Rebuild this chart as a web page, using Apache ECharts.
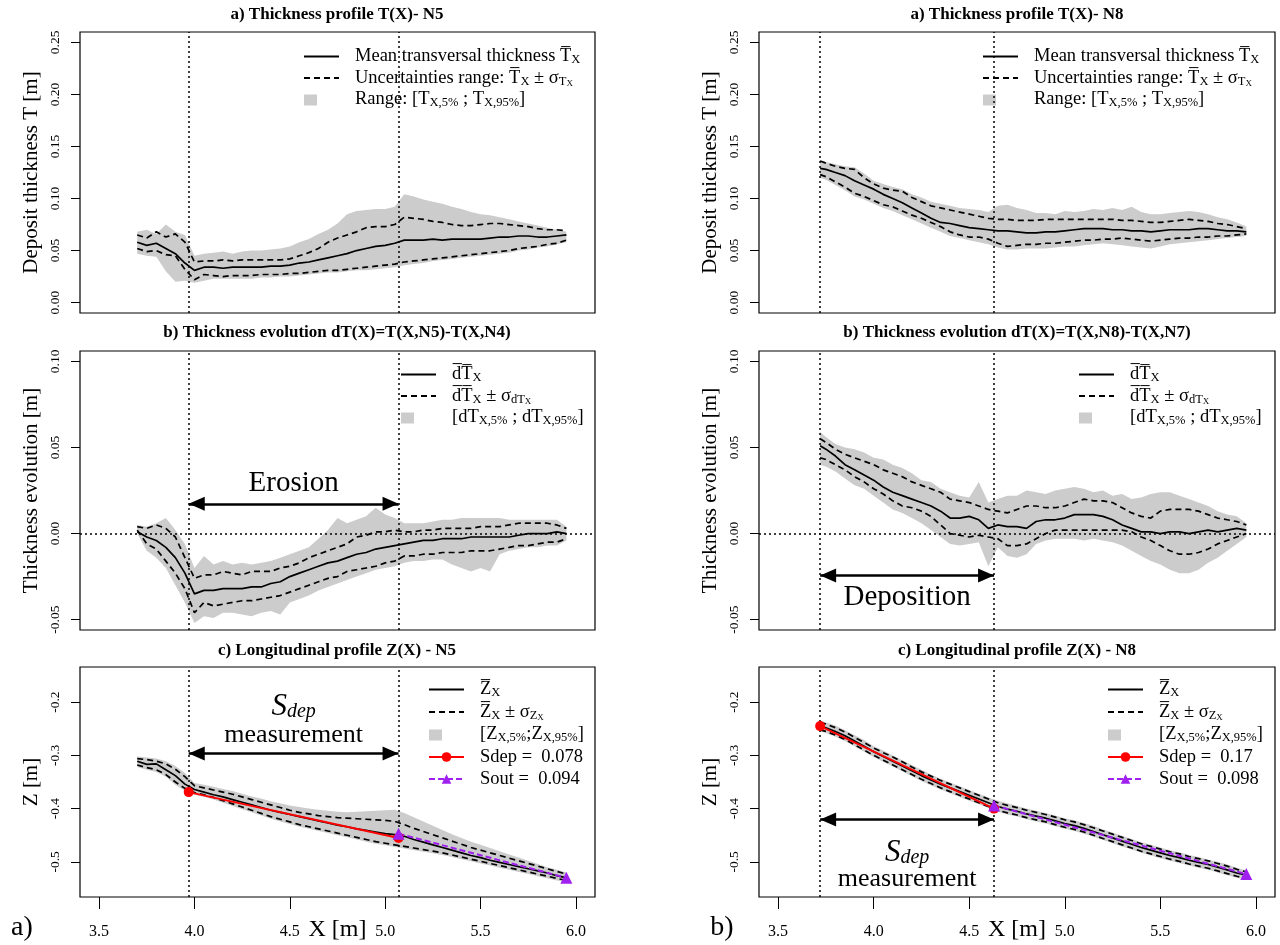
<!DOCTYPE html>
<html>
<head>
<meta charset="utf-8">
<title>Thickness and longitudinal profiles N5 / N8</title>
<script src="https://cdn.jsdelivr.net/npm/echarts@6/dist/echarts.min.js"></script>
<style>
  html, body { margin: 0; padding: 0; background: #ffffff; }
  #chart { width: 1280px; height: 945px; }
</style>
</head>
<body>
<div id="chart"></div>
<script>
var FONT = "'Liberation Serif', 'DejaVu Serif', serif"
var OV = '\u0305' // combining overline

// abscissa of the profiles (m)
var xN5 = [3.70, 3.75, 3.80, 3.85, 3.90, 3.95, 4.00, 4.05, 4.10, 4.15, 4.20, 4.25, 4.30, 4.35, 4.40, 4.45, 4.50, 4.55, 4.60, 4.65, 4.70, 4.75, 4.80, 4.85, 4.90, 4.95, 5.00, 5.05, 5.10, 5.15, 5.20, 5.25, 5.30, 5.35, 5.40, 5.45, 5.50, 5.55, 5.60, 5.65, 5.70, 5.75, 5.80, 5.85, 5.90, 5.95]
var xN8 = [3.72, 3.75, 3.80, 3.85, 3.90, 3.95, 4.00, 4.05, 4.10, 4.15, 4.20, 4.25, 4.30, 4.35, 4.40, 4.45, 4.50, 4.55, 4.60, 4.65, 4.70, 4.75, 4.80, 4.85, 4.90, 4.95, 5.00, 5.05, 5.10, 5.15, 5.20, 5.25, 5.30, 5.35, 5.40, 5.45, 5.50, 5.55, 5.60, 5.65, 5.70, 5.75, 5.80, 5.85, 5.90, 5.95]

// a) thickness T(X) - N5
var tN5Mean = [0.058, 0.055, 0.057, 0.052, 0.047, 0.038, 0.031, 0.034, 0.034, 0.033, 0.034, 0.034, 0.034, 0.034, 0.035, 0.035, 0.036, 0.038, 0.039, 0.041, 0.043, 0.045, 0.047, 0.050, 0.052, 0.054, 0.055, 0.057, 0.060, 0.060, 0.060, 0.061, 0.060, 0.061, 0.061, 0.061, 0.061, 0.062, 0.063, 0.063, 0.064, 0.064, 0.063, 0.063, 0.064, 0.065]
var tN5Up = [0.065, 0.062, 0.068, 0.063, 0.066, 0.058, 0.039, 0.040, 0.040, 0.041, 0.040, 0.041, 0.041, 0.041, 0.041, 0.041, 0.042, 0.045, 0.048, 0.052, 0.058, 0.062, 0.065, 0.068, 0.072, 0.073, 0.073, 0.075, 0.082, 0.081, 0.080, 0.078, 0.077, 0.075, 0.074, 0.074, 0.075, 0.076, 0.076, 0.075, 0.074, 0.073, 0.071, 0.070, 0.070, 0.069]
var tN5Low = [0.052, 0.049, 0.050, 0.046, 0.045, 0.032, 0.022, 0.027, 0.026, 0.025, 0.026, 0.026, 0.026, 0.027, 0.027, 0.027, 0.028, 0.028, 0.029, 0.030, 0.031, 0.031, 0.032, 0.033, 0.034, 0.035, 0.036, 0.037, 0.039, 0.040, 0.041, 0.042, 0.043, 0.044, 0.045, 0.046, 0.047, 0.048, 0.049, 0.050, 0.052, 0.053, 0.054, 0.056, 0.057, 0.060]
var tN5P95 = [0.068, 0.070, 0.066, 0.075, 0.068, 0.065, 0.045, 0.047, 0.048, 0.049, 0.047, 0.049, 0.050, 0.050, 0.051, 0.052, 0.054, 0.058, 0.061, 0.066, 0.070, 0.076, 0.085, 0.088, 0.089, 0.090, 0.090, 0.092, 0.104, 0.102, 0.099, 0.097, 0.095, 0.092, 0.090, 0.087, 0.085, 0.084, 0.082, 0.080, 0.078, 0.076, 0.074, 0.072, 0.070, 0.068]
var tN5P5 = [0.047, 0.045, 0.044, 0.030, 0.020, 0.021, 0.019, 0.021, 0.023, 0.023, 0.023, 0.023, 0.023, 0.024, 0.024, 0.025, 0.025, 0.026, 0.027, 0.028, 0.029, 0.029, 0.030, 0.031, 0.031, 0.032, 0.033, 0.034, 0.036, 0.037, 0.038, 0.040, 0.041, 0.042, 0.043, 0.044, 0.045, 0.046, 0.047, 0.048, 0.050, 0.051, 0.053, 0.054, 0.056, 0.058]

// a) thickness T(X) - N8
var tN8Mean = [0.129, 0.128, 0.125, 0.122, 0.117, 0.113, 0.109, 0.104, 0.100, 0.096, 0.091, 0.086, 0.081, 0.077, 0.076, 0.074, 0.072, 0.071, 0.070, 0.069, 0.069, 0.068, 0.067, 0.067, 0.068, 0.068, 0.069, 0.070, 0.071, 0.071, 0.071, 0.070, 0.070, 0.069, 0.069, 0.068, 0.069, 0.070, 0.070, 0.070, 0.071, 0.071, 0.070, 0.069, 0.069, 0.068]
var tN8Up = [0.136, 0.134, 0.131, 0.129, 0.128, 0.120, 0.114, 0.110, 0.108, 0.107, 0.101, 0.097, 0.093, 0.091, 0.089, 0.087, 0.085, 0.083, 0.081, 0.080, 0.080, 0.079, 0.079, 0.079, 0.080, 0.080, 0.080, 0.080, 0.080, 0.080, 0.080, 0.080, 0.079, 0.079, 0.078, 0.077, 0.077, 0.078, 0.079, 0.080, 0.079, 0.078, 0.076, 0.075, 0.073, 0.071]
var tN8Low = [0.123, 0.121, 0.116, 0.111, 0.105, 0.102, 0.098, 0.094, 0.092, 0.088, 0.084, 0.081, 0.077, 0.073, 0.068, 0.065, 0.063, 0.063, 0.061, 0.057, 0.054, 0.055, 0.056, 0.056, 0.057, 0.057, 0.058, 0.059, 0.060, 0.060, 0.061, 0.061, 0.062, 0.061, 0.060, 0.059, 0.060, 0.061, 0.062, 0.062, 0.063, 0.063, 0.064, 0.064, 0.065, 0.066]
var tN8P95 = [0.137, 0.135, 0.133, 0.131, 0.130, 0.124, 0.117, 0.114, 0.111, 0.109, 0.104, 0.101, 0.097, 0.095, 0.093, 0.091, 0.090, 0.089, 0.087, 0.093, 0.094, 0.091, 0.089, 0.086, 0.086, 0.085, 0.088, 0.087, 0.088, 0.090, 0.089, 0.091, 0.089, 0.092, 0.087, 0.085, 0.085, 0.086, 0.087, 0.088, 0.087, 0.085, 0.082, 0.080, 0.077, 0.073]
var tN8P5 = [0.120, 0.118, 0.113, 0.108, 0.102, 0.099, 0.095, 0.091, 0.088, 0.084, 0.080, 0.076, 0.072, 0.068, 0.064, 0.062, 0.060, 0.058, 0.056, 0.053, 0.051, 0.051, 0.052, 0.052, 0.052, 0.053, 0.054, 0.054, 0.055, 0.056, 0.057, 0.056, 0.055, 0.054, 0.053, 0.052, 0.054, 0.056, 0.057, 0.058, 0.059, 0.060, 0.061, 0.062, 0.063, 0.064]

// b) thickness evolution dT(X) - N5-N4
var dtN5Mean = [0.001, -0.002, -0.004, -0.008, -0.014, -0.023, -0.035, -0.033, -0.033, -0.032, -0.032, -0.032, -0.031, -0.031, -0.029, -0.028, -0.025, -0.023, -0.021, -0.019, -0.017, -0.016, -0.014, -0.012, -0.011, -0.009, -0.008, -0.007, -0.006, -0.005, -0.004, -0.004, -0.003, -0.003, -0.003, -0.002, -0.002, -0.002, -0.002, -0.002, -0.001, 0.000, 0.000, 0.000, 0.001, 0.000]
var dtN5Up = [0.004, 0.003, 0.005, 0.003, -0.002, -0.014, -0.026, -0.024, -0.024, -0.022, -0.023, -0.024, -0.022, -0.022, -0.022, -0.020, -0.019, -0.017, -0.014, -0.012, -0.010, -0.008, -0.006, -0.002, -0.001, 0.001, 0.001, 0.002, 0.001, 0.001, 0.002, 0.002, 0.003, 0.003, 0.003, 0.003, 0.004, 0.004, 0.004, 0.005, 0.006, 0.006, 0.006, 0.006, 0.005, 0.003]
var dtN5Low = [0.002, -0.006, -0.009, -0.016, -0.023, -0.032, -0.046, -0.040, -0.042, -0.041, -0.040, -0.039, -0.039, -0.038, -0.037, -0.036, -0.034, -0.032, -0.030, -0.028, -0.026, -0.025, -0.022, -0.021, -0.020, -0.019, -0.017, -0.016, -0.013, -0.013, -0.012, -0.012, -0.011, -0.011, -0.011, -0.010, -0.010, -0.010, -0.009, -0.008, -0.007, -0.007, -0.006, -0.005, -0.005, -0.003]
var dtN5P95 = [0.005, 0.004, 0.006, 0.009, 0.002, -0.006, -0.020, -0.013, -0.018, -0.016, -0.018, -0.017, -0.018, -0.017, -0.016, -0.014, -0.012, -0.010, -0.008, -0.003, 0.002, 0.009, 0.006, 0.008, 0.010, 0.015, 0.011, 0.009, 0.006, 0.006, 0.006, 0.007, 0.008, 0.008, 0.009, 0.009, 0.009, 0.009, 0.009, 0.008, 0.008, 0.008, 0.008, 0.008, 0.008, 0.004]
var dtN5P5 = [0.000, -0.010, -0.014, -0.020, -0.030, -0.040, -0.052, -0.048, -0.049, -0.046, -0.046, -0.047, -0.048, -0.046, -0.045, -0.047, -0.040, -0.038, -0.036, -0.033, -0.031, -0.029, -0.027, -0.025, -0.023, -0.021, -0.020, -0.019, -0.017, -0.016, -0.016, -0.015, -0.015, -0.018, -0.020, -0.022, -0.020, -0.022, -0.012, -0.010, -0.009, -0.008, -0.008, -0.007, -0.007, -0.004]

// b) thickness evolution dT(X) - N8-N7
var dtN8Mean = [0.051, 0.049, 0.045, 0.040, 0.037, 0.034, 0.031, 0.027, 0.024, 0.022, 0.020, 0.018, 0.016, 0.013, 0.009, 0.009, 0.010, 0.008, 0.003, 0.005, 0.004, 0.004, 0.003, 0.007, 0.008, 0.008, 0.009, 0.011, 0.011, 0.011, 0.010, 0.008, 0.005, 0.003, 0.001, 0.001, 0.000, 0.001, 0.001, 0.000, 0.001, 0.002, 0.001, 0.002, 0.003, 0.002]
var dtN8Up = [0.055, 0.053, 0.049, 0.046, 0.044, 0.042, 0.040, 0.037, 0.035, 0.033, 0.030, 0.028, 0.026, 0.024, 0.020, 0.019, 0.018, 0.016, 0.014, 0.013, 0.012, 0.014, 0.016, 0.016, 0.015, 0.015, 0.016, 0.018, 0.020, 0.019, 0.019, 0.018, 0.015, 0.012, 0.010, 0.009, 0.013, 0.014, 0.014, 0.014, 0.013, 0.011, 0.009, 0.008, 0.007, 0.005]
var dtN8Low = [0.044, 0.043, 0.040, 0.037, 0.033, 0.030, 0.026, 0.023, 0.019, 0.016, 0.015, 0.013, 0.010, 0.005, 0.000, -0.001, -0.002, -0.001, -0.002, -0.003, -0.007, -0.007, -0.006, -0.003, 0.000, 0.002, 0.002, 0.002, 0.002, 0.002, 0.002, 0.002, 0.002, 0.001, -0.002, -0.004, -0.007, -0.010, -0.012, -0.012, -0.011, -0.009, -0.006, -0.004, -0.002, 0.000]
var dtN8P95 = [0.059, 0.056, 0.052, 0.050, 0.049, 0.047, 0.044, 0.043, 0.040, 0.038, 0.035, 0.031, 0.030, 0.026, 0.024, 0.022, 0.021, 0.030, 0.018, 0.020, 0.022, 0.022, 0.025, 0.024, 0.023, 0.025, 0.026, 0.027, 0.026, 0.024, 0.025, 0.022, 0.023, 0.020, 0.021, 0.023, 0.024, 0.024, 0.022, 0.020, 0.018, 0.016, 0.013, 0.011, 0.010, 0.006]
var dtN8P5 = [0.040, 0.039, 0.036, 0.032, 0.028, 0.026, 0.022, 0.018, 0.014, 0.012, 0.009, 0.006, 0.002, -0.002, -0.006, -0.007, -0.006, -0.005, -0.019, -0.008, -0.013, -0.014, -0.012, -0.006, -0.004, -0.003, -0.003, -0.003, -0.004, -0.003, -0.004, -0.005, -0.007, -0.010, -0.013, -0.016, -0.018, -0.021, -0.023, -0.023, -0.021, -0.017, -0.014, -0.010, -0.006, -0.002]

// c) longitudinal profile Z(X) - N5
var zN5Mean = [-0.311, -0.317, -0.316, -0.327, -0.338, -0.354, -0.364, -0.369, -0.374, -0.378, -0.383, -0.388, -0.393, -0.398, -0.403, -0.407, -0.411, -0.415, -0.419, -0.423, -0.427, -0.431, -0.434, -0.438, -0.441, -0.444, -0.447, -0.449, -0.452, -0.458, -0.463, -0.468, -0.473, -0.478, -0.483, -0.488, -0.492, -0.497, -0.501, -0.505, -0.509, -0.513, -0.517, -0.521, -0.526, -0.530]
var zN5Up = [-0.306, -0.308, -0.311, -0.316, -0.326, -0.340, -0.357, -0.361, -0.365, -0.369, -0.373, -0.378, -0.383, -0.388, -0.393, -0.398, -0.403, -0.407, -0.410, -0.413, -0.415, -0.417, -0.418, -0.419, -0.420, -0.421, -0.422, -0.424, -0.430, -0.437, -0.443, -0.449, -0.455, -0.461, -0.467, -0.473, -0.478, -0.483, -0.488, -0.493, -0.498, -0.503, -0.508, -0.513, -0.518, -0.523]
var zN5Low = [-0.318, -0.323, -0.327, -0.336, -0.350, -0.362, -0.370, -0.374, -0.379, -0.385, -0.391, -0.397, -0.403, -0.409, -0.415, -0.420, -0.425, -0.430, -0.434, -0.438, -0.442, -0.446, -0.450, -0.454, -0.458, -0.462, -0.465, -0.468, -0.471, -0.474, -0.477, -0.480, -0.483, -0.487, -0.491, -0.495, -0.499, -0.503, -0.507, -0.511, -0.515, -0.519, -0.523, -0.527, -0.531, -0.535]
var zN5P95 = [-0.302, -0.304, -0.306, -0.311, -0.320, -0.333, -0.352, -0.355, -0.359, -0.363, -0.367, -0.372, -0.377, -0.381, -0.386, -0.390, -0.394, -0.397, -0.400, -0.402, -0.404, -0.406, -0.407, -0.406, -0.405, -0.404, -0.403, -0.402, -0.408, -0.416, -0.424, -0.432, -0.440, -0.448, -0.455, -0.462, -0.468, -0.474, -0.480, -0.486, -0.492, -0.498, -0.504, -0.510, -0.515, -0.520]
var zN5P5 = [-0.322, -0.327, -0.331, -0.340, -0.355, -0.367, -0.374, -0.378, -0.383, -0.389, -0.395, -0.401, -0.407, -0.413, -0.419, -0.424, -0.429, -0.434, -0.438, -0.442, -0.446, -0.450, -0.454, -0.458, -0.462, -0.466, -0.469, -0.472, -0.475, -0.478, -0.481, -0.484, -0.487, -0.491, -0.495, -0.499, -0.503, -0.507, -0.511, -0.515, -0.519, -0.523, -0.527, -0.531, -0.535, -0.538]

// c) longitudinal profile Z(X) - N8
var zN8Mean = [-0.245, -0.248, -0.255, -0.263, -0.273, -0.283, -0.293, -0.302, -0.311, -0.320, -0.329, -0.338, -0.346, -0.354, -0.361, -0.368, -0.375, -0.382, -0.389, -0.396, -0.401, -0.405, -0.410, -0.414, -0.418, -0.423, -0.428, -0.432, -0.437, -0.443, -0.449, -0.455, -0.461, -0.467, -0.473, -0.478, -0.483, -0.488, -0.492, -0.497, -0.501, -0.505, -0.510, -0.515, -0.521, -0.525]
var zN8Up = [-0.238, -0.241, -0.248, -0.256, -0.266, -0.276, -0.286, -0.295, -0.303, -0.312, -0.322, -0.331, -0.339, -0.347, -0.354, -0.361, -0.368, -0.375, -0.382, -0.389, -0.394, -0.398, -0.403, -0.407, -0.411, -0.416, -0.421, -0.425, -0.430, -0.436, -0.442, -0.448, -0.454, -0.460, -0.466, -0.471, -0.476, -0.481, -0.485, -0.490, -0.494, -0.498, -0.503, -0.508, -0.514, -0.519]
var zN8Low = [-0.252, -0.255, -0.262, -0.270, -0.280, -0.290, -0.300, -0.309, -0.318, -0.327, -0.336, -0.345, -0.353, -0.361, -0.368, -0.375, -0.382, -0.389, -0.396, -0.403, -0.408, -0.412, -0.417, -0.421, -0.425, -0.430, -0.435, -0.439, -0.444, -0.450, -0.456, -0.462, -0.468, -0.474, -0.480, -0.485, -0.490, -0.495, -0.499, -0.504, -0.508, -0.512, -0.517, -0.522, -0.527, -0.531]
var zN8P95 = [-0.235, -0.238, -0.244, -0.253, -0.262, -0.271, -0.283, -0.291, -0.300, -0.309, -0.318, -0.327, -0.336, -0.344, -0.351, -0.358, -0.365, -0.372, -0.379, -0.385, -0.390, -0.395, -0.400, -0.404, -0.408, -0.413, -0.418, -0.422, -0.427, -0.432, -0.439, -0.445, -0.451, -0.457, -0.463, -0.468, -0.473, -0.478, -0.482, -0.487, -0.491, -0.496, -0.500, -0.505, -0.511, -0.516]
var zN8P5 = [-0.255, -0.258, -0.265, -0.273, -0.283, -0.293, -0.303, -0.312, -0.321, -0.330, -0.339, -0.348, -0.356, -0.364, -0.371, -0.378, -0.385, -0.392, -0.399, -0.406, -0.411, -0.415, -0.420, -0.424, -0.428, -0.433, -0.438, -0.442, -0.447, -0.453, -0.459, -0.465, -0.471, -0.477, -0.483, -0.488, -0.493, -0.498, -0.502, -0.507, -0.511, -0.515, -0.520, -0.525, -0.530, -0.534]

// deposition zone limits (dotted lines)
var cutN5 = [3.97, 5.07]
var cutN8 = [3.72, 4.63]

// slope segments: Sdep (red) and Sout (purple)
var sdepN5X = [3.97, 5.07]
var sdepN5Z = [-0.369, -0.455]
var soutN5X = [5.07, 5.95]
var soutN5Z = [-0.447, -0.530]
var sdepN8X = [3.72, 4.63]
var sdepN8Z = [-0.245, -0.400]
var soutN8X = [4.63, 5.95]
var soutN8Z = [-0.394, -0.523]
var slopeN5 = ['0.078', '0.094']
var slopeN8 = ['0.17', '0.098']

// annotations: arrow level and text anchors (data coords)
var arrowYN5 = [0.0173, -0.2964]
var arrowYN8 = [-0.0243, -0.4205]
var textN5 = [[4.52, 0.029, 'erosion'], [4.52, -0.208, 'sdep'], [4.52, -0.2626, 'meas']]
var textN8 = [[4.175, -0.037, 'deposition'], [4.175, -0.4826, 'sdep'], [4.175, -0.533, 'meas']]

// axes
var xTicks = [3.5, 4.0, 4.5, 5.0, 5.5, 6.0]
var tTicks = [0, 0.05, 0.10, 0.15, 0.20, 0.25]
var dtTicks = [-0.05, 0, 0.05, 0.10]
var zTicks = [-0.5, -0.4, -0.3, -0.2]

var BAND = '#cccccc'

var legendText = {
  meanT: '{t|Mean transversal thickness T' + OV + '}{s|X}',
  sdT: '{t|Uncertainties range: T' + OV + '}{s|X}{t| ± σ}{s|T}{ss|X}',
  bandT: '{t|Range: [T}{s|X,5%}{t| ; T}{s|X,95%}{t|]}',
  meanD: '{t|d' + OV + 'T' + OV + '}{s|X}',
  sdD: '{t|d' + OV + 'T' + OV + '}{s|X}{t| ± σ}{s|dT}{ss|X}',
  bandD: '{t|[dT}{s|X,5%}{t| ; dT}{s|X,95%}{t|]}',
  meanZ: '{t|Z' + OV + '}{s|X}',
  sdZ: '{t|Z' + OV + '}{s|X}{t| ± σ}{s|Z}{ss|X}',
  bandZ: '{t|[Z}{s|X,5%}{t|;Z}{s|X,95%}{t|]}',
  sdepN5: '{t|Sdep =  ' + slopeN5[0] + '}',
  soutN5: '{t|Sout =  ' + slopeN5[1] + '}',
  sdepN8: '{t|Sdep =  ' + slopeN8[0] + '}',
  soutN8: '{t|Sout =  ' + slopeN8[1] + '}'
}

var legendRich = {
  t: { fontFamily: FONT, fontSize: 18.5, lineHeight: 20, color: '#000' },
  s: { fontFamily: FONT, fontSize: 12.5, lineHeight: 8, verticalAlign: 'bottom', color: '#000' },
  ss: { fontFamily: FONT, fontSize: 9, lineHeight: 3, verticalAlign: 'bottom', color: '#000' }
}

var annotText = {
  erosion: '{b|Erosion}',
  deposition: '{b|Deposition}',
  sdep: '{si|S}{sd|dep}',
  meas: '{m|measurement}'
}
var annotRich = {
  b: { fontFamily: FONT, fontSize: 29, color: '#000', textBorderWidth: 0 },
  m: { fontFamily: FONT, fontSize: 26, color: '#000', textBorderWidth: 0 },
  si: { fontFamily: FONT, fontSize: 31, fontStyle: 'italic', lineHeight: 30, color: '#000', textBorderWidth: 0 },
  sd: { fontFamily: FONT, fontSize: 20, fontStyle: 'italic', lineHeight: 10, verticalAlign: 'bottom', color: '#000', textBorderWidth: 0 }
}

function pairs(xs, ys) {
  var out = []
  for (var i = 0; i < xs.length; i++) out.push([xs[i], ys[i]])
  return out
}

// grey 5%-95% band as one polygon
function bandSeries(name, k, xs, lo, hi) {
  return {
    type: 'custom', name: name, xAxisIndex: k, yAxisIndex: k, silent: true, z: 1,
    itemStyle: { color: BAND },
    data: [[xs[0], lo[0]]],
    renderItem: function (params, api) {
      var pts = []
      for (var i = 0; i < xs.length; i++) pts.push(api.coord([xs[i], hi[i]]))
      for (var j = xs.length - 1; j >= 0; j--) pts.push(api.coord([xs[j], lo[j]]))
      return { type: 'polygon', shape: { points: pts }, style: { fill: BAND } }
    }
  }
}

function lineSeries(name, k, xs, ys, dashed) {
  return {
    type: 'line', name: name, xAxisIndex: k, yAxisIndex: k, silent: true, z: 3,
    symbol: 'none', data: pairs(xs, ys),
    lineStyle: { color: '#000', width: 1.7, type: dashed ? [6, 4] : 'solid' },
    itemStyle: { color: '#000' }
  }
}

function cutLines(cuts, withZero) {
  var d = [{ xAxis: cuts[0] }, { xAxis: cuts[1] }]
  if (withZero) d.push({ yAxis: 0 })
  return {
    silent: true, symbol: 'none', animation: false,
    label: { show: false },
    lineStyle: { color: '#000', type: [2, 3], width: 1.5 },
    data: d
  }
}

function arrowLine(cuts, y) {
  return {
    silent: true, symbol: ['triangle', 'triangle'], symbolSize: [14, 16],
    animation: false, label: { show: false },
    lineStyle: { color: '#000', type: 'solid', width: 2.5 },
    data: [[
      { coord: [cuts[0], y], symbolOffset: [0, '50%'] },
      { coord: [cuts[1], y], symbolOffset: [0, '50%'] }
    ]]
  }
}

function textSeries(k, items) {
  return {
    type: 'scatter', xAxisIndex: k, yAxisIndex: k, silent: true, symbolSize: 0, z: 6,
    itemStyle: { opacity: 1 },
    data: items.map(function (it) { return { value: [it[0], it[1]], key: it[2] } }),
    label: {
      show: true, position: 'inside', color: '#000', opacity: 1, textBorderWidth: 0,
      formatter: function (p) { return annotText[p.data.key] },
      rich: annotRich
    }
  }
}

function slopeSeries(name, k, xs, zs, color, symbol, dashed) {
  return {
    type: 'line', name: name, xAxisIndex: k, yAxisIndex: k, silent: true, z: 5,
    data: pairs(xs, zs), symbol: symbol, symbolSize: symbol === 'triangle' ? 12 : 10,
    lineStyle: { color: color, width: 2, type: dashed ? [6, 3] : 'solid' },
    itemStyle: { color: color }
  }
}

// one panel: band, mean +/- sigma, mean
function panel(k, tag, xs, mean, up, low, p95, p5, cuts, isDT, arrowY) {
  var upper = lineSeries('sd' + tag + k, k, xs, up, true)
  if (arrowY != null) upper.markLine = arrowLine(cuts, arrowY)
  var m = lineSeries('mean' + tag + k, k, xs, mean, false)
  m.markLine = cutLines(cuts, isDT)
  return [
    bandSeries('band' + tag + k, k, xs, p5, p95),
    upper,
    lineSeries('sd' + tag + k, k, xs, low, true),
    m
  ]
}

var grids = [
  { left: 80, top: 32, width: 515, height: 281 },
  { left: 80, top: 351, width: 515, height: 279 },
  { left: 80, top: 667, width: 515, height: 230 },
  { left: 759, top: 32, width: 516, height: 281 },
  { left: 759, top: 351, width: 516, height: 279 },
  { left: 759, top: 667, width: 516, height: 230 }
].map(function (g) {
  return Object.assign({ show: true, borderColor: '#000', borderWidth: 1.2, backgroundColor: 'transparent', containLabel: false, outerBoundsMode: 'none' }, g)
})

function xAxisFor(k, bottom) {
  return {
    type: 'value', gridIndex: k, min: 3.4, max: 6.1, show: bottom,
    name: bottom ? 'X [m]' : '', nameLocation: 'middle', nameGap: 21, nameMoveOverlap: false,
    nameTextStyle: { fontFamily: FONT, fontSize: 24, color: '#000' },
    axisLine: { show: false }, splitLine: { show: false },
    axisTick: { show: true, length: 12, lineStyle: { color: '#000', width: 1 }, customValues: xTicks },
    axisLabel: {
      show: true, margin: 27, color: '#000', fontFamily: FONT, fontSize: 16,
      customValues: xTicks, formatter: function (v) { return v.toFixed(1) }
    }
  }
}

function yAxisFor(k, min, max, ticks, digits, name) {
  return {
    type: 'value', gridIndex: k, min: min, max: max,
    name: name, nameLocation: 'middle', nameRotate: 90, nameGap: 38, nameMoveOverlap: false,
    nameTextStyle: { fontFamily: FONT, fontSize: 21, color: '#000' },
    axisLine: { show: false }, splitLine: { show: false },
    axisTick: { show: true, length: 9, lineStyle: { color: '#000', width: 1 }, customValues: ticks },
    axisLabel: {
      show: true, rotate: 90, margin: 18, color: '#000', fontFamily: FONT, fontSize: 13.5,
      customValues: ticks, formatter: function (v) { return v.toFixed(digits) }
    }
  }
}

function legendFor(left, top, gap, names, keys) {
  var data = names.map(function (n, i) {
    var item = { name: n }
    if (keys[i].indexOf('band') === 0) item.icon = 'path://M0,1h13v11h-13z M35,0h0.01v0.01h-0.01z'
    else if (keys[i].indexOf('mean') === 0 || keys[i].indexOf('sd') === 0 && keys[i].indexOf('sdep') !== 0) {
      item.itemStyle = { color: 'rgba(0,0,0,0)', borderWidth: 0, opacity: 0 }
    }
    return item
  })
  var map = {}
  names.forEach(function (n, i) { map[n] = legendText[keys[i]] })
  return {
    orient: 'vertical', left: left, top: top, padding: 0, itemGap: gap,
    itemWidth: 35, itemHeight: 12, selectedMode: false,
    data: data,
    formatter: function (n) { return map[n] },
    textStyle: { color: '#000', fontFamily: FONT, fontSize: 18, padding: [0, 0, 0, 11], rich: legendRich }
  }
}

var series = []
  .concat(panel(0, 'T', xN5, tN5Mean, tN5Up, tN5Low, tN5P95, tN5P5, cutN5, false, null))
  .concat(panel(1, 'D', xN5, dtN5Mean, dtN5Up, dtN5Low, dtN5P95, dtN5P5, cutN5, true, arrowYN5[0]))
  .concat(panel(2, 'Z', xN5, zN5Mean, zN5Up, zN5Low, zN5P95, zN5P5, cutN5, false, arrowYN5[1]))
  .concat(panel(3, 'T', xN8, tN8Mean, tN8Up, tN8Low, tN8P95, tN8P5, cutN8, false, null))
  .concat(panel(4, 'D', xN8, dtN8Mean, dtN8Up, dtN8Low, dtN8P95, dtN8P5, cutN8, true, arrowYN8[0]))
  .concat(panel(5, 'Z', xN8, zN8Mean, zN8Up, zN8Low, zN8P95, zN8P5, cutN8, false, arrowYN8[1]))
  .concat([
    slopeSeries('sdepN5', 2, sdepN5X, sdepN5Z, '#ff0000', 'circle', false),
    slopeSeries('soutN5', 2, soutN5X, soutN5Z, '#a020f0', 'triangle', true),
    slopeSeries('sdepN8', 5, sdepN8X, sdepN8Z, '#ff0000', 'circle', false),
    slopeSeries('soutN8', 5, soutN8X, soutN8Z, '#a020f0', 'triangle', true),
    textSeries(1, textN5.slice(0, 1)),
    textSeries(2, textN5.slice(1)),
    textSeries(4, textN8.slice(0, 1)),
    textSeries(5, textN8.slice(1))
  ])

var titles = [
  [337, 15, 'a) Thickness profile T(X)- N5'],
  [1017, 15, 'a) Thickness profile T(X)- N8'],
  [337, 333, 'b) Thickness evolution dT(X)=T(X,N5)-T(X,N4)'],
  [1017, 333, 'b) Thickness evolution dT(X)=T(X,N8)-T(X,N7)'],
  [337, 651, 'c) Longitudinal profile Z(X) - N5'],
  [1017, 651, 'c) Longitudinal profile Z(X) - N8']
]

var graphics = titles.map(function (t) {
  return {
    type: 'text', x: t[0], y: t[1], silent: true,
    style: { text: t[2], fill: '#000', font: 'bold 17px ' + FONT, textAlign: 'center', textVerticalAlign: 'middle', align: 'center', verticalAlign: 'middle' }
  }
}).concat([
  { type: 'text', x: 22, y: 928, silent: true, style: { text: 'a)', fill: '#000', font: '28px ' + FONT, textAlign: 'center', textVerticalAlign: 'middle', align: 'center', verticalAlign: 'middle' } },
  { type: 'text', x: 722, y: 928, silent: true, style: { text: 'b)', fill: '#000', font: '28px ' + FONT, textAlign: 'center', textVerticalAlign: 'middle', align: 'center', verticalAlign: 'middle' } }
])

var option = {
  animation: false,
  backgroundColor: '#ffffff',
  grid: grids,
  xAxis: [xAxisFor(0, false), xAxisFor(1, false), xAxisFor(2, true), xAxisFor(3, false), xAxisFor(4, false), xAxisFor(5, true)],
  yAxis: [
    yAxisFor(0, -0.01, 0.26, tTicks, 2, 'Deposit thickness T [m]'),
    yAxisFor(1, -0.056, 0.106, dtTicks, 2, 'Thickness evolution [m]'),
    yAxisFor(2, -0.566, -0.134, zTicks, 1, 'Z [m]'),
    yAxisFor(3, -0.01, 0.26, tTicks, 2, 'Deposit thickness T [m]'),
    yAxisFor(4, -0.056, 0.106, dtTicks, 2, 'Thickness evolution [m]'),
    yAxisFor(5, -0.566, -0.134, zTicks, 1, 'Z [m]')
  ],
  legend: [
    legendFor(303, 47, 2, ['meanT0', 'sdT0', 'bandT0'], ['meanT', 'sdT', 'bandT']),
    legendFor(400, 365, 2, ['meanD1', 'sdD1', 'bandD1'], ['meanD', 'sdD', 'bandD']),
    legendFor(428, 680, 3, ['meanZ2', 'sdZ2', 'bandZ2', 'sdepN5', 'soutN5'], ['meanZ', 'sdZ', 'bandZ', 'sdepN5', 'soutN5']),
    legendFor(982, 47, 2, ['meanT3', 'sdT3', 'bandT3'], ['meanT', 'sdT', 'bandT']),
    legendFor(1078, 365, 2, ['meanD4', 'sdD4', 'bandD4'], ['meanD', 'sdD', 'bandD']),
    legendFor(1107, 680, 3, ['meanZ5', 'sdZ5', 'bandZ5', 'sdepN8', 'soutN8'], ['meanZ', 'sdZ', 'bandZ', 'sdepN8', 'soutN8'])
  ],
  graphic: graphics,
  series: series
}

var myChart = echarts.init(document.getElementById('chart'))
myChart.setOption(option)
</script>
</body>
</html>
